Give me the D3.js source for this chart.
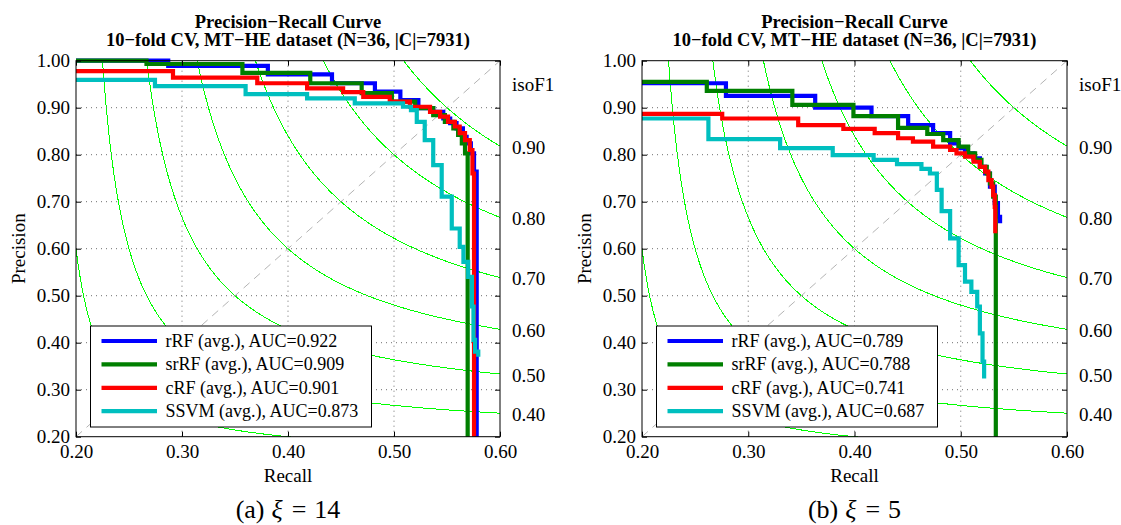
<!DOCTYPE html>
<html>
<head>
<meta charset="utf-8">
<script src="https://cdn.jsdelivr.net/npm/d3@7"></script>
<style>
  body { margin: 0; background: #fff; }
  svg { display: block; font-family: "Liberation Serif", "Times New Roman", serif; }
</style>
</head>
<body>
<svg id="chart" width="1121" height="525"></svg>
<script>
// ---- data -------------------------------------------------------------
const seriesNames  = ["rRF (avg.)", "srRF (avg.)", "cRF (avg.)", "SSVM (avg.)"];
const seriesColors = ["#0000ff", "#007f00", "#ff0000", "#00bfbf"];
const aucXi14 = [0.922, 0.909, 0.901, 0.873];
const aucXi5  = [0.789, 0.788, 0.741, 0.687];

const recallTicks    = [0.20, 0.30, 0.40, 0.50, 0.60];
const precisionTicks = [0.20, 0.30, 0.40, 0.50, 0.60, 0.70, 0.80, 0.90, 1.00];
const isoFValues     = [0.3, 0.4, 0.5, 0.6, 0.7, 0.8, 0.9];
const isoFLabels     = [0.4, 0.5, 0.6, 0.7, 0.8, 0.9];

// averaged precision-recall curves, [recall, precision] at the start of each step
const rRF14 = [[0.200,1.000],[0.287,0.989],[0.381,0.971],[0.4415,0.952],[0.482,0.934],[0.506,0.916],
  [0.523,0.899],[0.537,0.891],[0.5465,0.877],[0.553,0.867],[0.559,0.856],[0.565,0.838],[0.5685,0.824],
  [0.5725,0.803],[0.5755,0.764],[0.578,0.200]];
const srRF14 = [[0.200,1.000],[0.2665,0.993],[0.357,0.974],[0.421,0.952],[0.4695,0.931],[0.498,0.913],
  [0.520,0.899],[0.537,0.884],[0.548,0.870],[0.556,0.856],[0.5605,0.842],[0.564,0.824],[0.567,0.803],
  [0.5695,0.200]];
const cRF14 = [[0.200,0.978],[0.2915,0.964],[0.371,0.952],[0.418,0.941],[0.452,0.933],[0.471,0.923],
  [0.496,0.913],[0.515,0.902],[0.534,0.891],[0.5435,0.881],[0.551,0.870],[0.5575,0.860],[0.562,0.846],
  [0.567,0.831],[0.5715,0.810],[0.574,0.760],[0.5755,0.200]];
const ssvm14 = [[0.200,0.959],[0.2745,0.946],[0.360,0.929],[0.418,0.920],[0.463,0.909],[0.5085,0.902],
  [0.516,0.895],[0.5215,0.870],[0.529,0.831],[0.537,0.778],[0.545,0.711],[0.5545,0.643],[0.562,0.604],
  [0.5655,0.572],[0.570,0.540],[0.5735,0.477],[0.575,0.406],[0.5765,0.381],[0.5795,0.370]];

const rRF5 = [[0.200,0.952],[0.279,0.925],[0.363,0.900],[0.416,0.882],[0.4505,0.863],[0.474,0.846],
  [0.490,0.824],[0.498,0.814],[0.504,0.803],[0.512,0.792],[0.518,0.774],[0.523,0.760],[0.5275,0.732],
  [0.532,0.697],[0.535,0.668],[0.537,0.654]];
const srRF5 = [[0.200,0.955],[0.261,0.936],[0.3415,0.906],[0.399,0.882],[0.441,0.857],[0.4685,0.844],
  [0.4835,0.831],[0.498,0.817],[0.507,0.803],[0.5135,0.789],[0.5195,0.774],[0.5245,0.760],[0.5275,0.739],
  [0.5305,0.711],[0.533,0.200]];
const cRF5 = [[0.200,0.887],[0.2755,0.877],[0.347,0.863],[0.3895,0.855],[0.419,0.846],[0.441,0.835],
  [0.455,0.828],[0.474,0.817],[0.490,0.810],[0.496,0.803],[0.504,0.796],[0.512,0.785],[0.518,0.774],
  [0.523,0.764],[0.526,0.746],[0.529,0.732],[0.5305,0.714],[0.532,0.689],[0.5325,0.633]];
const ssvm5 = [[0.200,0.877],[0.2625,0.833],[0.330,0.814],[0.3795,0.799],[0.418,0.789],[0.440,0.780],
  [0.463,0.770],[0.471,0.760],[0.4775,0.725],[0.482,0.680],[0.490,0.622],[0.498,0.565],[0.504,0.530],
  [0.510,0.508],[0.5155,0.477],[0.518,0.420],[0.5205,0.360],[0.522,0.324]];

const titleLines = ["Precision\u2212Recall Curve", "10\u2212fold CV, MT\u2212HE dataset (N=36, |C|=7931)"];

// ---- layout -----------------------------------------------------------
const panels = [
  { left: 76,  right: 500,  curves: [rRF14, srRF14, cRF14, ssvm14], auc: aucXi14, tag: "(a)", xi: "14" },
  { left: 642, right: 1067, curves: [rRF5,  srRF5,  cRF5,  ssvm5],  auc: aucXi5,  tag: "(b)", xi: "5"  }
];
const plotTop = 60.7, plotBottom = 436.7;
const fmt = d3.format(".2f");
const serif = "Liberation Serif";

const svg = d3.select("#chart");
svg.append("rect").attr("width", 1121).attr("height", 525).attr("fill", "#fff");

panels.forEach((pn, idx) => {
  const g = svg.append("g");
  const x = d3.scaleLinear().domain([0.2, 0.6]).range([pn.left, pn.right]);
  const y = d3.scaleLinear().domain([0.2, 1.0]).range([plotBottom, plotTop]);
  // iso-F1 contours live on a square [0.2,1] x [0.2,1] frame over the axes box
  const xi = d3.scaleLinear().domain([0.2, 1.0]).range([pn.left, pn.right]);
  const yi = d3.scaleLinear().domain([0.2, 1.0]).range([plotBottom, plotTop]);
  const cx = (pn.left + pn.right) / 2;

  const clipId = "box" + idx;
  svg.append("clipPath").attr("id", clipId).append("rect")
    .attr("x", pn.left).attr("y", plotTop)
    .attr("width", pn.right - pn.left).attr("height", plotBottom - plotTop);

  // iso-F1 curves
  const isoLine = d3.line().x(d => xi(d[0])).y(d => yi(d[1]));
  isoFValues.forEach(f => {
    const pts = d3.range(f / 2 + 0.0005, 1.0001, 0.0005)
      .map(r => [r, f * r / (2 * r - f)])
      .filter(d => d[1] <= 1.3);
    g.append("path").attr("d", isoLine(pts))
      .attr("clip-path", `url(#${clipId})`)
      .attr("fill", "none").attr("stroke", "#00ff00").attr("stroke-width", 1)
      .attr("shape-rendering", "crispEdges");
  });

  // diagonal
  g.append("line")
    .attr("x1", xi(0.2)).attr("y1", yi(0.2)).attr("x2", xi(1)).attr("y2", yi(1))
    .attr("stroke", "#b4b4b4").attr("stroke-width", 1).attr("stroke-dasharray", "8,6");

  // grid
  g.selectAll(".gx").data(recallTicks.slice(1, -1)).join("line")
    .attr("x1", d => x(d)).attr("x2", d => x(d)).attr("y1", plotTop).attr("y2", plotBottom)
    .attr("stroke", "#6e6e6e").attr("stroke-width", 1).attr("stroke-dasharray", "1,4");
  g.selectAll(".gy").data(precisionTicks.slice(1, -1)).join("line")
    .attr("y1", d => y(d)).attr("y2", d => y(d)).attr("x1", pn.left).attr("x2", pn.right)
    .attr("stroke", "#6e6e6e").attr("stroke-width", 1).attr("stroke-dasharray", "1,4");

  // curves
  const prLine = d3.line().x(d => x(d[0])).y(d => y(d[1])).curve(d3.curveStepAfter);
  pn.curves.forEach((c, i) => {
    g.append("path").attr("d", prLine(c))
      .attr("fill", "none").attr("stroke", seriesColors[i]).attr("stroke-width", 4.2)
      .attr("stroke-linejoin", "miter").attr("stroke-linecap", "butt");
  });

  // axes (ticks point inward)
  const ax = (gen, tx, ty) => {
    const a = g.append("g").attr("transform", `translate(${tx},${ty})`).call(gen);
    a.attr("font-family", serif).attr("font-size", 19);
    a.select(".domain").remove();
    a.selectAll("line").attr("stroke", "#000");
    a.selectAll("text").attr("fill", "#000");
    return a;
  };
  ax(d3.axisBottom(x).tickValues(recallTicks).tickFormat(fmt).tickSize(-5).tickPadding(8), 0, plotBottom);
  ax(d3.axisTop(x).tickValues(recallTicks).tickFormat("").tickSize(-5), 0, plotTop);
  ax(d3.axisLeft(y).tickValues(precisionTicks).tickFormat(fmt).tickSize(-5).tickPadding(6), pn.left, 0);
  ax(d3.axisRight(y).tickValues(precisionTicks).tickFormat("").tickSize(-5), pn.right, 0);

  g.append("rect").attr("x", pn.left).attr("y", plotTop)
    .attr("width", pn.right - pn.left).attr("height", plotBottom - plotTop)
    .attr("fill", "none").attr("stroke", "#000").attr("stroke-width", 1);

  // iso-F1 labels on the right
  g.selectAll(".iso").data(isoFLabels).join("text")
    .attr("x", pn.right + 12).attr("y", f => yi(f / (2 - f)) + 1)
    .attr("dominant-baseline", "central").attr("font-size", 19)
    .text(f => fmt(f));
  g.append("text").attr("x", pn.right + 12).attr("y", yi(0.95))
    .attr("dominant-baseline", "central").attr("font-size", 19).text("isoF1");

  // titles
  titleLines.forEach((t, k) => {
    g.append("text").attr("x", cx).attr("y", 27.5 + k * 18.5)
      .attr("text-anchor", "middle").attr("font-weight", "bold").attr("font-size", 18.5).text(t);
  });

  // axis labels
  g.append("text").attr("x", cx).attr("y", 481.7).attr("text-anchor", "middle")
    .attr("font-size", 19).text("Recall");
  g.append("text").attr("transform", `translate(${pn.left - 51},${(plotTop + plotBottom) / 2}) rotate(-90)`)
    .attr("text-anchor", "middle").attr("font-size", 19).text("Precision");

  // legend
  const lg = g.append("g").attr("transform", `translate(${pn.left + 14.5},326)`);
  lg.append("rect").attr("width", 281).attr("height", 101)
    .attr("fill", "#fff").attr("stroke", "#000").attr("stroke-width", 1);
  seriesNames.forEach((n, i) => {
    const ry = 15 + i * 23.4;
    lg.append("line").attr("x1", 11).attr("x2", 66.5).attr("y1", ry).attr("y2", ry)
      .attr("stroke", seriesColors[i]).attr("stroke-width", 4.2);
    lg.append("text").attr("x", 75).attr("y", ry).attr("dominant-baseline", "central")
      .attr("font-size", 18).text(`${n}, AUC=${pn.auc[i].toFixed(3)}`);
  });

  // sub-figure caption
  const cap = g.append("text").attr("x", cx).attr("y", 518).attr("text-anchor", "middle")
    .attr("font-size", 26);
  cap.append("tspan").text(pn.tag);
  cap.append("tspan").attr("dx", 7).attr("font-style", "italic").text("\u03BE");
  cap.append("tspan").attr("dx", 9).text("=");
  cap.append("tspan").attr("dx", 8).text(pn.xi);
});
</script>
</body>
</html>
